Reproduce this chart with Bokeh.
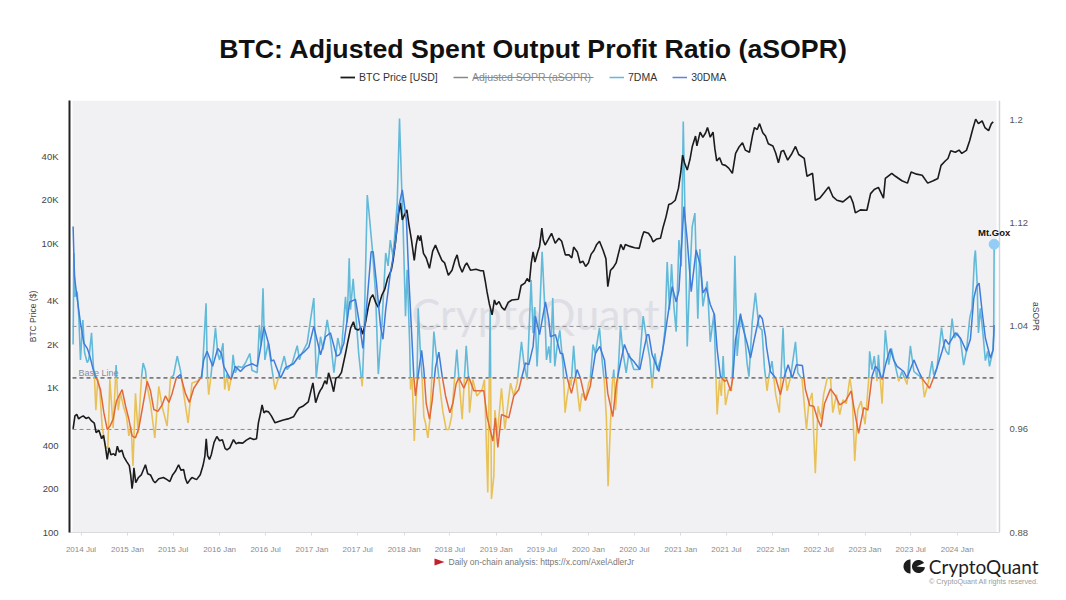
from datetime import datetime, timedelta
import numpy as np
from bokeh.embed import file_html
from bokeh.resources import INLINE
from bokeh.layouts import column
from bokeh.plotting import figure
from bokeh.models import (Range1d, LinearScale, LinearAxis, FixedTicker, DatetimeTickFormatter,
                          Label, Legend, LegendItem, BoxAnnotation)

TITLE = "BTC: Adjusted Spent Output Profit Ratio (aSOPR)"
PRICE_TICKS = [100, 200, 400, 1000, 2000, 4000, 10000, 20000, 40000]
PRICE_LABELS = ["100", "200", "400", "1K", "2K", "4K", "10K", "20K", "40K"]
SOPR_TICKS = [0.88, 0.96, 1.04, 1.12, 1.2]
SOPR_LABELS = ["0.88", "0.96", "1.04", "1.12", "1.2"]
LEVELS = [0.96, 1.04]
BASE_LEVEL = 1.0

# (decimal year, USD)
PRICE = [
(2014.41,520),(2014.43,640),(2014.45,655),(2014.47,610),(2014.49,625),(2014.52,640),(2014.55,615),(2014.58,625),(2014.61,590),
(2014.64,570),(2014.66,490),(2014.69,510),(2014.72,445),(2014.74,470),(2014.76,395),(2014.78,320),(2014.80,385),(2014.82,345),
(2014.85,350),(2014.87,340),(2014.89,395),(2014.91,360),(2014.94,370),(2014.96,335),(2014.99,310),(2015.02,290),(2015.035,250),
(2015.05,201),(2015.06,225),(2015.07,280),(2015.09,221),(2015.12,240),(2015.15,250),(2015.195,294),(2015.22,255),(2015.25,250),
(2015.28,228),(2015.30,221),(2015.34,235),(2015.37,238),(2015.39,240),(2015.43,232),(2015.46,225),(2015.49,250),(2015.52,265),
(2015.555,294),(2015.58,270),(2015.61,272),(2015.63,235),(2015.65,218),(2015.68,232),(2015.70,240),(2015.75,232),(2015.79,251),
(2015.82,290),(2015.84,336),(2015.855,445),(2015.87,340),(2015.89,320),(2015.91,345),(2015.94,420),(2015.97,461),(2016.0,430),
(2016.03,438),(2016.06,380),(2016.08,373),(2016.11,385),(2016.15,438),(2016.18,410),(2016.2,418),(2016.25,415),(2016.29,435),
(2016.33,450),(2016.37,440),(2016.40,445),(2016.42,573),(2016.445,680),(2016.46,763),(2016.48,672),(2016.50,690),(2016.53,682),
(2016.56,640),(2016.60,573),(2016.64,585),(2016.69,600),(2016.74,610),(2016.80,630),(2016.83,680),(2016.86,725),(2016.90,745),
(2016.96,800),(2016.99,960),(2017.01,1082),(2017.04,790),(2017.07,900),(2017.09,960),(2017.11,1000),(2017.14,1120),(2017.16,1060),
(2017.18,1270),(2017.21,1100),(2017.235,940),(2017.26,1170),(2017.29,1190),(2017.32,1280),(2017.365,1740),(2017.39,2100),(2017.42,2600),
(2017.45,2860),(2017.47,2560),(2017.50,2510),(2017.53,2600),(2017.55,2350),(2017.58,2800),(2017.61,3600),(2017.635,4170),(2017.66,4400),
(2017.69,3900),(2017.72,3600),(2017.76,4400),(2017.79,4800),(2017.82,5700),(2017.86,6500),(2017.88,7600),(2017.905,10000),(2017.925,13000),
(2017.94,16000),(2017.96,19000),(2017.98,14500),(2018.0,15500),(2018.03,17000),(2018.05,13700),(2018.08,10500),(2018.11,7600),(2018.13,9700),
(2018.15,11300),(2018.17,10400),(2018.18,11300),(2018.21,8500),(2018.24,7900),(2018.275,6700),(2018.31,8800),(2018.34,9700),(2018.37,8700),
(2018.41,7600),(2018.44,7300),(2018.48,6000),(2018.52,6500),(2018.55,7600),(2018.575,8300),(2018.60,7000),(2018.63,6300),(2018.66,7000),
(2018.68,7300),(2018.72,6500),(2018.78,6600),(2018.83,6450),(2018.86,6450),(2018.88,5500),(2018.90,4600),(2018.925,3800),(2018.955,3200),
(2018.98,4050),(2019.0,3750),(2019.03,3950),(2019.06,3600),(2019.09,3450),(2019.13,3900),(2019.17,4050),(2019.24,4100),(2019.27,5100),
(2019.31,5300),(2019.335,5700),(2019.36,5400),(2019.38,7300),(2019.40,8700),(2019.42,7400),(2019.45,8700),(2019.47,9500),(2019.495,12700),
(2019.51,10500),(2019.53,9700),(2019.56,10500),(2019.6,11700),(2019.64,10000),(2019.68,10800),(2019.71,10300),(2019.75,8300),(2019.79,8300),
(2019.82,7900),(2019.84,9400),(2019.88,8700),(2019.91,7300),(2019.94,7500),(2019.97,6900),(2020.0,7300),(2020.03,8400),(2020.06,8900),
(2020.09,9800),(2020.12,10300),(2020.16,8900),(2020.19,7800),(2020.21,5000),(2020.24,6500),(2020.27,6800),(2020.30,7300),(2020.33,8700),
(2020.35,9800),(2020.38,9000),(2020.40,9800),(2020.45,9500),(2020.50,9300),(2020.55,9200),(2020.58,11000),(2020.60,12000),(2020.65,11700),
(2020.68,11000),(2020.70,10200),(2020.74,10700),(2020.78,10800),(2020.81,13000),(2020.84,15200),(2020.87,18500),(2020.90,18800),(2020.94,19800),
(2020.975,24000),(2021.0,31000),(2021.02,40600),(2021.04,36000),(2021.07,32000),(2021.10,38000),(2021.125,46600),(2021.14,50000),(2021.16,55000),
(2021.175,47000),(2021.21,58500),(2021.24,53800),(2021.27,58000),(2021.29,63000),(2021.32,54000),(2021.35,58500),(2021.37,45000),(2021.39,37000),
(2021.42,39000),(2021.45,35000),(2021.485,34500),(2021.52,33000),(2021.56,30400),(2021.595,41700),(2021.63,46000),(2021.67,49500),(2021.70,44000),
(2021.745,42500),(2021.78,56000),(2021.80,63000),(2021.83,61000),(2021.855,67000),(2021.89,58000),(2021.92,55000),(2021.95,48700),(2022.0,47000),
(2022.03,42000),(2022.06,36000),(2022.09,43000),(2022.115,43800),(2022.16,37500),(2022.2,41000),(2022.245,46600),(2022.28,41000),(2022.34,38500),
(2022.37,29000),(2022.43,30400),(2022.46,19800),(2022.51,20500),(2022.56,22500),(2022.605,24500),(2022.65,21000),(2022.695,19800),(2022.76,19300),
(2022.84,21200),(2022.87,19000),(2022.895,16200),(2022.95,17000),(2023.02,16900),(2023.06,22000),(2023.10,23500),(2023.145,24300),(2023.2,20500),
(2023.22,28000),(2023.29,30400),(2023.33,29000),(2023.40,27000),(2023.46,26000),(2023.50,31000),(2023.56,30000),(2023.62,29500),(2023.68,26000),
(2023.74,27000),(2023.79,28000),(2023.825,34500),(2023.87,37000),(2023.90,38500),(2023.93,43500),(2023.98,42500),(2024.02,44000),(2024.05,41700),
(2024.10,43800),(2024.135,51000),(2024.17,62000),(2024.20,72000),(2024.23,67000),(2024.27,70000),(2024.30,63000),(2024.34,60000),(2024.37,67000),
(2024.39,69000),
]

# (decimal year, aSOPR 7-day average)
SOPR_7DMA = [
(2014.41,1.026),(2014.418,1.097),(2014.43,1.063),(2014.454,1.067),(2014.472,1.048),(2014.49,1.014),(2014.516,1.045),(2014.534,1.02),
(2014.563,1.012),(2014.58,1.014),(2014.61,1.035),(2014.63,1.009),(2014.642,1.001),(2014.657,.975),(2014.678,.999),(2014.70,.99),(2014.725,.9626),
(2014.76,.947),(2014.787,.945),(2014.809,.999),(2014.845,.961),(2014.877,1.01),(2014.90,.975),(2014.925,.988),(2014.96,.977),(2014.99,.97),
(2015.015,.955),(2015.04,.962),(2015.06,.9316),(2015.087,.988),(2015.116,.957),(2015.152,1.0),(2015.17,1.0116),(2015.195,1.006),(2015.214,.9935),
(2015.25,.98),(2015.297,.9535),(2015.34,.9935),(2015.376,.978),(2015.43,.9626),(2015.467,1.0),(2015.50,1.002),(2015.54,1.017),(2015.575,1.006),
(2015.61,.988),(2015.658,.965),(2015.70,.996),(2015.755,.9974),(2015.81,1.001),(2015.853,1.058),(2015.868,1.001),(2015.882,.987),(2015.91,1.004),
(2015.955,1.039),(2015.98,1.019),(2016.0,1.014),(2016.037,1.027),(2016.055,.991),(2016.08,1.003),(2016.10,.99),(2016.128,1.001),(2016.146,1.018),
(2016.17,1.004),(2016.20,1.009),(2016.244,1.008),(2016.28,1.0116),(2016.327,1.019),(2016.35,1.006),(2016.407,1.004),(2016.43,1.041),(2016.45,1.025),
(2016.47,1.0697),(2016.49,1.014),(2016.526,1.027),(2016.56,1.01),(2016.60,.991),(2016.64,1.001),(2016.70,1.017),(2016.73,1.0065),(2016.787,1.0116),
(2016.84,1.025),(2016.865,1.014),(2016.876,1.017),(2016.912,1.022),(2016.948,1.027),(2016.99,1.048),(2017.02,1.062),(2017.046,1.0),(2017.093,1.032),
(2017.12,1.022),(2017.165,1.045),(2017.20,1.03),(2017.238,1.004),(2017.28,1.031),(2017.317,1.019),(2017.364,1.063),(2017.382,1.043),(2017.404,1.093),
(2017.418,1.053),(2017.447,1.077),(2017.472,1.053),(2017.508,1.018),(2017.545,.9935),(2017.563,1.027),(2017.60,1.142),(2017.617,1.13),(2017.655,1.1),
(2017.69,1.066),(2017.72,1.003),(2017.76,1.043),(2017.80,1.097),(2017.826,1.087),(2017.85,1.107),(2017.88,1.094),(2017.925,1.1355),(2017.95,1.2014),
(2017.97,1.156),(2017.99,1.115),(2018.015,1.048),(2018.033,1.084),(2018.06,1.027),(2018.07,.991),(2018.087,1.0),(2018.11,.951),(2018.14,.999),
(2018.153,1.054),(2018.175,1.022),(2018.196,.9987),(2018.214,.97),(2018.232,.965),(2018.258,.9535),(2018.28,.968),(2018.323,1.036),(2018.348,1.019),
(2018.395,.9885),(2018.42,.974),(2018.457,.96),(2018.485,.96),(2018.515,.97),(2018.572,1.022),(2018.594,1.0),(2018.63,.968),(2018.674,1.025),
(2018.70,.9987),(2018.71,.973),(2018.746,.9987),(2018.79,.986),(2018.847,.991),(2018.872,.9987),(2018.89,.955),(2018.908,.911),(2018.934,1.053),
(2018.948,.906),(2018.974,.924),(2018.985,.975),(2019.01,.955),(2019.057,.992),(2019.093,.96),(2019.155,.996),(2019.19,.986),(2019.227,.996),
(2019.274,1.028),(2019.30,1.0116),(2019.335,.9987),(2019.378,1.076),(2019.40,1.035),(2019.418,1.055),(2019.443,1.009),(2019.47,1.048),(2019.498,1.098),
(2019.523,1.06),(2019.545,1.014),(2019.57,1.0245),(2019.588,1.0116),(2019.613,1.062),(2019.635,1.009),(2019.66,1.0245),(2019.69,1.037),(2019.725,1.009),
(2019.747,.973),(2019.77,.986),(2019.80,.9987),(2019.812,.994),(2019.84,1.025),(2019.863,1.001),(2019.906,.974),(2019.93,.988),(2019.968,.983),
(2020.003,.996),(2020.02,.9987),(2020.05,1.026),(2020.076,1.019),(2020.12,1.039),(2020.148,1.014),(2020.174,.996),(2020.195,.968),(2020.213,.916),
(2020.238,.963),(2020.257,.994),(2020.275,1.0065),(2020.293,.975),(2020.318,.9987),(2020.347,1.04),(2020.376,1.019),(2020.409,1.004),(2020.438,1.019),
(2020.492,1.0065),(2020.546,1.0065),(2020.593,1.048),(2020.625,1.032),(2020.665,1.015),(2020.672,1.009),(2020.69,.992),(2020.72,1.019),(2020.745,1.006),
(2020.80,1.019),(2020.828,1.037),(2020.853,1.09),(2020.878,1.053),(2020.90,1.0885),(2020.925,1.056),(2020.95,1.036),(2020.98,1.107),(2021.005,1.0865),
(2021.027,1.199),(2021.045,1.13),(2021.07,1.0245),(2021.095,1.0736),(2021.124,1.1175),(2021.153,1.128),(2021.185,1.046),(2021.207,1.1),(2021.24,1.0555),
(2021.287,1.075),(2021.32,1.028),(2021.36,1.05),(2021.395,.9716),(2021.42,.9987),(2021.44,.986),(2021.46,1.017),(2021.485,.979),(2021.52,.991),
(2021.55,.99),(2021.565,1.011),(2021.587,1.0948),(2021.612,1.017),(2021.648,1.048),(2021.685,1.04),(2021.72,1.011),(2021.74,1.001),(2021.775,1.043),
(2021.81,1.066),(2021.847,1.04),(2021.882,1.037),(2021.908,1.008),(2021.937,.99),(2021.955,1.001),(2021.99,1.013),(2022.03,.987),(2022.07,.973),
(2022.11,1.039),(2022.125,1.009),(2022.154,.99),(2022.19,1.0),(2022.245,1.028),(2022.27,1.004),(2022.317,.9987),(2022.364,.96),(2022.39,.9806),
(2022.425,.9884),(2022.46,.926),(2022.49,.978),(2022.523,.968),(2022.55,.987),(2022.59,1.0),(2022.625,1.0),(2022.65,.973),(2022.69,.987),(2022.725,.9716),
(2022.76,.983),(2022.797,.98),(2022.835,1.0),(2022.86,.988),(2022.888,.9355),(2022.92,.975),(2022.957,.982),(2023.0,.964),(2023.04,.999),(2023.05,1.0207),
(2023.075,1.0065),(2023.10,1.017),(2023.13,.9974),(2023.145,1.018),(2023.185,.98),(2023.22,1.037),(2023.257,1.0103),(2023.286,1.023),(2023.33,1.009),
(2023.366,.9974),(2023.40,1.005),(2023.456,.995),(2023.492,1.025),(2023.53,1.005),(2023.57,1.0026),(2023.62,1.0),(2023.644,.985),(2023.69,.9974),
(2023.727,1.013),(2023.745,1.0026),(2023.78,1.0077),(2023.83,1.039),(2023.855,1.026),(2023.88,1.0207),(2023.908,1.018),(2023.945,1.046),(2023.97,1.031),
(2024.0,1.035),(2024.035,1.03),(2024.07,1.01),(2024.10,1.0207),(2024.136,1.0465),(2024.16,1.054),(2024.187,1.093),(2024.197,1.099),(2024.215,1.075),
(2024.23,1.035),(2024.25,1.054),(2024.28,1.0336),(2024.305,1.0134),(2024.33,1.0207),(2024.35,1.009),(2024.385,1.0207),(2024.395,1.034),(2024.40,1.1038),
]

# (decimal year, aSOPR 30-day average)
SOPR_30DMA = [
(2014.41,1.1175),(2014.425,1.079),(2014.443,1.068),(2014.49,1.0426),(2014.527,1.027),(2014.563,1.023),(2014.588,1.018),(2014.628,1.0065),(2014.67,.9987),
(2014.707,.991),(2014.744,.973),(2014.78,.96),(2014.81,.9626),(2014.845,.968),(2014.88,.982),(2014.942,.991),(2014.98,.978),(2015.015,.968),(2015.05,.955),
(2015.087,.9535),(2015.123,.961),(2015.16,.9755),(2015.214,.9974),(2015.25,.99),(2015.286,.9755),(2015.33,.974),(2015.376,.979),(2015.412,.986),(2015.45,.981),
(2015.485,.988),(2015.53,1.0),(2015.575,1.0026),(2015.629,.988),(2015.672,.981),(2015.72,.992),(2015.803,1.001),(2015.828,1.014),(2015.864,1.0207),(2015.925,1.009),
(2015.98,1.023),(2016.02,1.019),(2016.045,1.009),(2016.10,1.0013),(2016.124,.9987),(2016.17,1.009),(2016.226,1.005),(2016.28,1.009),(2016.352,1.011),(2016.407,1.009),
(2016.443,1.023),(2016.48,1.0395),(2016.533,1.026),(2016.56,1.013),(2016.586,1.014),(2016.66,1.0),(2016.713,1.008),(2016.80,1.011),(2016.858,1.017),(2016.912,1.02),
(2016.966,1.024),(2017.02,1.04),(2017.093,1.018),(2017.147,1.032),(2017.20,1.035),(2017.267,1.017),(2017.30,1.018),(2017.346,1.027),(2017.41,1.059),(2017.472,1.061),
(2017.52,1.04),(2017.552,1.023),(2017.60,1.061),(2017.642,1.098),(2017.664,1.098),(2017.70,1.0736),(2017.744,1.04),(2017.77,1.03),(2017.80,1.053),(2017.85,1.081),
(2017.906,1.1046),(2017.942,1.133),(2017.98,1.146),(2018.025,1.1226),(2018.05,1.079),(2018.08,1.037),(2018.105,1.001),(2018.123,.986),(2018.16,1.006),(2018.19,1.0214),
(2018.214,1.0065),(2018.24,.98),(2018.276,.968),(2018.305,.9826),(2018.34,1.008),(2018.377,1.02),(2018.413,1.0013),(2018.45,.986),(2018.496,.973),(2018.53,.9806),
(2018.565,.9955),(2018.594,1.0),(2018.648,.992),(2018.70,1.001),(2018.757,.99),(2018.79,.99),(2018.865,.99),(2018.90,.97),(2018.963,.951),(2018.99,.969),(2019.017,.946),
(2019.057,.9716),(2019.10,.9703),(2019.136,.969),(2019.19,.986),(2019.245,.991),(2019.28,1.0013),(2019.317,1.0116),(2019.353,1.0103),(2019.40,1.0245),(2019.425,1.048),
(2019.47,1.0336),(2019.534,1.059),(2019.57,1.045),(2019.588,1.032),(2019.642,1.0336),(2019.696,1.019),(2019.72,1.019),(2019.77,1.0),(2019.816,.988),(2019.877,1.0065),
(2019.913,1.0),(2019.968,.9824),(2020.02,.9935),(2020.076,1.019),(2020.123,1.0245),(2020.174,1.014),(2020.21,.988),(2020.264,.97),(2020.304,.996),(2020.347,1.0116),
(2020.39,1.026),(2020.437,1.017),(2020.49,1.013),(2020.557,1.0065),(2020.60,1.022),(2020.636,1.0336),(2020.654,1.0336),(2020.69,1.018),(2020.763,1.005),(2020.817,1.027),
(2020.853,1.045),(2020.907,1.071),(2020.95,1.059),(2020.98,1.068),(2021.034,1.133),(2021.07,1.107),(2021.113,1.067),(2021.167,1.0994),(2021.215,1.0865),(2021.24,1.066),
(2021.276,1.07),(2021.32,1.057),(2021.366,1.049),(2021.395,1.022),(2021.43,1.0013),(2021.475,.9974),(2021.50,.9987),(2021.54,.99),(2021.565,1.0),(2021.594,1.03),
(2021.63,1.0426),(2021.648,1.05),(2021.67,1.04),(2021.72,1.027),(2021.757,1.0155),(2021.804,1.032),(2021.855,1.049),(2021.885,1.046),(2021.92,1.032),(2021.93,1.0245),
(2021.973,1.005),(2022.03,1.0),(2022.082,.987),(2022.125,1.0013),(2022.165,1.0103),(2022.21,1.0),(2022.255,1.0103),(2022.32,1.0096),(2022.353,.991),(2022.40,.9786),
(2022.443,.978),(2022.487,.9677),(2022.523,.962),(2022.56,.98),(2022.625,.9915),(2022.68,.986),(2022.725,.979),(2022.787,.982),(2022.85,.99),(2022.877,.978),(2022.93,.957),
(2022.986,.977),(2023.03,.975),(2023.076,1.0013),(2023.112,1.009),(2023.15,1.006),(2023.185,.9987),(2023.232,1.013),(2023.275,1.0227),(2023.31,1.014),(2023.348,1.009),
(2023.42,1.005),(2023.456,1.0),(2023.53,1.014),(2023.583,1.005),(2023.62,.9995),(2023.70,.992),(2023.764,1.004),(2023.836,1.0207),(2023.872,1.03),(2023.908,1.026),
(2023.98,1.035),(2024.035,1.031),(2024.10,1.0207),(2024.143,1.03),(2024.18,1.062),(2024.21,1.071),(2024.237,1.0736),(2024.27,1.0516),(2024.305,1.031),(2024.36,1.0155),
(2024.39,1.022),(2024.40,1.041),
]

PX_PER_YEAR = 92.2
PAGE_W = 1060


def year_ms(t):
    y = int(t)
    a, b = datetime(y, 1, 1), datetime(y + 1, 1, 1)
    d = a + timedelta(seconds=(b - a).total_seconds() * (t - y))
    return (d - datetime(1970, 1, 1)).total_seconds() * 1000.0


def date_ms(y, m):
    return (datetime(y, m, 1) - datetime(1970, 1, 1)).total_seconds() * 1000.0


def split_base(series, base):
    """Break a line where it crosses the base level: parts above / parts below."""
    above, below = [], []
    cur = [series[0]]
    side = series[0][1] >= base
    for a, b in zip(series, series[1:]):
        if (b[1] >= base) != side:
            f = (base - a[1]) / (b[1] - a[1])
            c = (a[0] + f * (b[0] - a[0]), base)
            cur.append(c)
            (above if side else below).append(cur)
            cur = [c]
            side = not side
        cur.append(b)
    (above if side else below).append(cur)
    to = lambda parts: ([[year_ms(p[0]) for p in s] for s in parts], [[p[1] for p in s] for s in parts])
    return to(above), to(below)


def px(x):  # page pixel -> frame-relative screen x
    return x - 69


def py(y):  # page pixel -> frame-relative screen y (upwards)
    return 533 - y


def band(top, bottom):
    """A strip of the page without axes, whose data units are page pixels."""
    f = figure(width=PAGE_W, height=bottom - top, output_backend="svg", toolbar_location=None,
               x_axis_type=None, y_axis_type=None, x_range=Range1d(0, PAGE_W), y_range=Range1d(bottom, top),
               min_border=0, outline_line_color=None, background_fill_color="white", border_fill_color="white",
               frame_align=False)
    return f


# ---------- main chart
x_start, x_end = 2015 + (69 - 127) / PX_PER_YEAR, 2015 + (1012 - 127) / PX_PER_YEAR
x_bg0, x_bg1 = 2015 + (72 - 127) / PX_PER_YEAR, 2015 + (996 - 127) / PX_PER_YEAR
x_rule = 2015 + (999 - 127) / PX_PER_YEAR
p = figure(width=PAGE_W, height=456, output_backend="svg", toolbar_location=None,
           x_axis_type="datetime", y_axis_type="log",
           x_range=Range1d(year_ms(x_start), year_ms(x_end)),
           y_range=Range1d(100, 100 * 10 ** (433 / 145)),
           min_border_left=69, min_border_right=PAGE_W - 1012, min_border_top=0, min_border_bottom=23,
           background_fill_color="white", border_fill_color="white", outline_line_color=None, frame_align=False)
p.extra_y_ranges = {"sopr": Range1d(0.88, 0.88 + 433 / 1291)}
p.extra_y_scales = {"sopr": LinearScale()}

GREY = "#8b8b8b"
xa = p.xaxis[0]
xa.ticker = FixedTicker(ticks=[date_ms(y, m) for y in range(2014, 2025) for m in (1, 7)
                               if 2014.45 < y + (m - 1) / 12 < 2024.3])
xa.formatter = DatetimeTickFormatter(years="%Y %b", months="%Y %b", days="%Y %b", hours="%Y %b")
xa.bounds = (year_ms(x_start), year_ms(x_rule))
xa.major_label_text_font = "Liberation Sans"
xa.major_label_text_font_size = "8px"
xa.major_label_text_color = GREY
xa.major_label_standoff = 9
xa.axis_line_color = "#d9d9de"
xa.major_tick_line_color = "#d9d9de"
xa.major_tick_in = 0
xa.major_tick_out = 3
xa.minor_tick_line_color = None

ya = p.yaxis[0]
ya.ticker = FixedTicker(ticks=PRICE_TICKS)
ya.major_label_overrides = dict(zip(PRICE_TICKS, PRICE_LABELS))
ya.major_label_text_font = "Liberation Sans"
ya.major_label_text_font_size = "9.5px"
ya.major_label_text_color = "#444444"
ya.major_label_standoff = 11
ya.axis_line_color = "#222222"
ya.axis_line_width = 2
ya.major_tick_line_color = None
ya.major_tick_in = 0
ya.major_tick_out = 0
ya.minor_tick_line_color = None
ya.axis_label = "BTC Price ($)"
ya.axis_label_text_font = "Liberation Sans"
ya.axis_label_text_font_size = "8.5px"
ya.axis_label_text_font_style = "normal"
ya.axis_label_text_color = "#444444"
ya.axis_label_standoff = 1

ra = LinearAxis(y_range_name="sopr", ticker=FixedTicker(ticks=SOPR_TICKS),
                major_label_overrides=dict(zip(SOPR_TICKS, SOPR_LABELS)),
                major_label_text_font="Liberation Sans", major_label_text_font_size="9.5px",
                major_label_text_color="#555555", major_label_standoff=-3, major_tick_in=0, major_tick_out=0,
                axis_line_color=None, major_tick_line_color=None, minor_tick_line_color=None,
                axis_label="aSOPR", axis_label_text_font="Liberation Sans",
                axis_label_text_font_size="8.5px", axis_label_text_font_style="normal",
                axis_label_text_color="#444444", axis_label_standoff=0)
p.add_layout(ra, "right")

p.xgrid.visible = False
p.ygrid.grid_line_color = None

bg = BoxAnnotation(left=year_ms(x_bg0), right=year_ms(x_bg1),
                   fill_color="#F1F1F4", fill_alpha=1, line_color=None, level="underlay")
p.add_layout(bg)
p.line([year_ms(x_rule)] * 2, [0.88, 0.88 + 433 / 1291], y_range_name="sopr", line_color="#d4d4d9", line_width=1.5)

wm = Label(x=px(535), y=py(314), x_units="screen", y_units="screen", text="CryptoQuant", text_align="center",
           text_baseline="middle", text_font="Lato", text_font_size="43px", text_color="#DEDEE5",
           level="underlay")
p.add_layout(wm)

edge = [year_ms(x_bg0), year_ms(x_bg1)]
for lv in LEVELS:
    p.line(edge, [lv, lv], y_range_name="sopr", line_color="#8d8d8d", line_width=1, line_dash="4 3")
p.line(edge, [BASE_LEVEL, BASE_LEVEL], y_range_name="sopr", line_color="#222222", line_width=1, line_dash="4 3")

a7, b7 = split_base(SOPR_7DMA, BASE_LEVEL)
a30, b30 = split_base(SOPR_30DMA, BASE_LEVEL)
p.multi_line(a7[0], a7[1], y_range_name="sopr", line_color="#62BAD8", line_width=1.6)
p.multi_line(b7[0], b7[1], y_range_name="sopr", line_color="#E8C258", line_width=1.6)
p.line([year_ms(t) for t, _ in PRICE], [v for _, v in PRICE], line_color="#1b1b1b", line_width=1.6)
p.multi_line(a30[0], a30[1], y_range_name="sopr", line_color="#3F7CDB", line_width=1.5)
p.multi_line(b30[0], b30[1], y_range_name="sopr", line_color="#E2683B", line_width=1.5)

last_t, last_v = SOPR_7DMA[-1]
p.scatter([year_ms(last_t)], [last_v], y_range_name="sopr", size=10, color="#93CDF5")
p.add_layout(Label(x=year_ms(last_t), y=last_v, y_range_name="sopr", text="Mt.Gox", text_align="center",
                   text_baseline="middle", y_offset=12, text_font="Liberation Sans", text_font_size="9.5px",
                   text_font_style="bold", text_color="#111111"))
p.add_layout(Label(x=px(78), y=py(373), x_units="screen", y_units="screen", text="Base Line",
                   text_baseline="middle", text_font="Liberation Sans", text_font_size="9px", text_color="#8a8a98"))

# ---------- header strip: title and legend
head = band(0, 100)
head.add_layout(Label(x=533, y=48, text=TITLE, text_align="center", text_baseline="middle",
                      text_font="Liberation Sans", text_font_size="26.7px", text_font_style="bold",
                      text_color="#111111"))
OFF = ([-20, -10], [-20, -10])  # keys only: off the strip, seen just in the legend
r_btc = head.line(*OFF, line_color="#1b1b1b", line_width=1.8)
r_raw = head.line(*OFF, line_color="#888888", line_width=1.5)
r_l7 = head.line(*OFF, line_color="#62BAD8", line_width=1.5)
r_l30 = head.line(*OFF, line_color="#5B84E0", line_width=1.5)
LEG = dict(orientation="horizontal", glyph_width=15, glyph_height=10, label_standoff=4, padding=0, margin=0,
           spacing=15, border_line_color=None, background_fill_alpha=0,
           label_text_font="Liberation Sans", label_text_font_size="10.5px", label_height=10)
head.add_layout(Legend(items=[LegendItem(label="BTC Price [USD]", renderers=[r_btc])],
                       location=(340, 17), label_text_color="#333333", **LEG))
head.add_layout(Legend(items=[LegendItem(label="Adjusted SOPR (aSOPR)", renderers=[r_raw])],
                       location=(453, 17), label_text_color="#8b8b8b", **LEG))
head.add_layout(Legend(items=[LegendItem(label="7DMA", renderers=[r_l7]), LegendItem(label="30DMA", renderers=[r_l30])],
                       location=(609, 17), label_text_color="#333333", **LEG))
head.line([473, 593], [77, 77], line_color="#8b8b8b", line_width=1)

# ---------- footer strip
foot = band(556, 592)
foot.add_layout(Label(x=448, y=561.5, text="Daily on-chain analysis: https://x.com/AxelAdlerJr", text_baseline="middle",
                      text_font="Liberation Sans", text_font_size="8.5px", text_color="#777777"))
foot.patch([434, 444, 434], [558, 561.5, 565], fill_color="#C4202B", line_color=None)
ang = np.linspace(np.pi / 2, 3 * np.pi / 2, 24)
foot.patch(910 + 7 * np.cos(ang), 566 + 7 * np.sin(ang), fill_color="#1d1d1f", line_color=None)
ang2 = np.linspace(0.1, 2 * np.pi - 0.55, 40)
foot.patch(list(918 + 6.5 * np.cos(ang2)) + [916], list(566 + 6.5 * np.sin(ang2)) + [566],
           fill_color="#1d1d1f", line_color=None)
foot.add_layout(Label(x=1038, y=566, text="CryptoQuant", text_align="right", text_baseline="middle",
                      text_font="Lato", text_font_size="19px", text_color="#1d1d1f"))
foot.add_layout(Label(x=1038, y=581, text="\u00a9 CryptoQuant All rights reserved.", text_align="right",
                      text_baseline="middle", text_font="Liberation Sans", text_font_size="7.2px",
                      text_color="#9a9a9a"))

page = column(head, p, foot, spacing=0)
open("out.html", "w").write(file_html(page, INLINE))
